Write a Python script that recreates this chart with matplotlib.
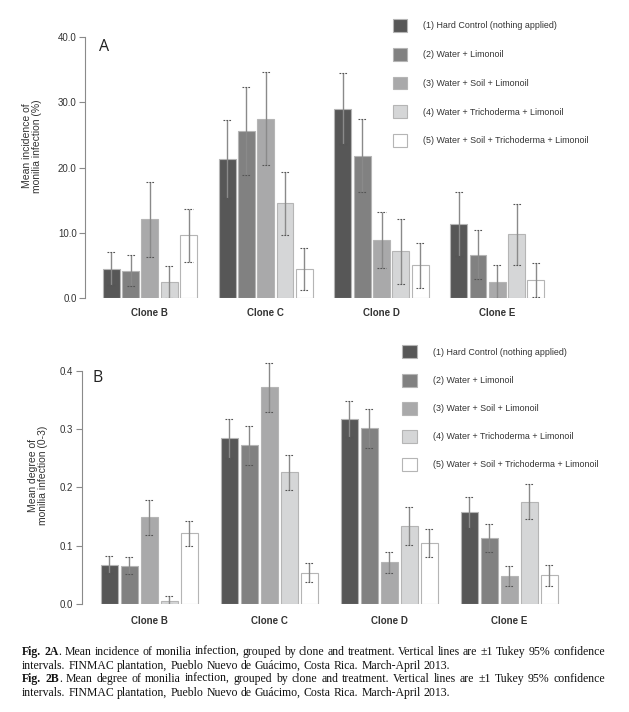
import matplotlib
matplotlib.use("Agg")
import matplotlib.pyplot as plt
from matplotlib.patches import Patch
import numpy as np

# ---------------- data ----------------
clones = ["Clone B", "Clone C", "Clone D", "Clone E"]
treatments = ["(1) Hard Control (nothing applied)",
              "(2) Water + Limonoil",
              "(3) Water + Soil + Limonoil",
              "(4) Water + Trichoderma + Limonoil",
              "(5) Water + Soil + Trichoderma + Limonoil"]

# Panel A: mean incidence (%) per clone, treatments 1..5
inc_B = [4.5, 4.2, 12.05, 2.45, 9.6]
inc_C = [21.3, 25.6, 27.5, 14.5, 4.5]
inc_D = [29.0, 21.8, 8.9, 7.15, 5.0]
inc_E = [11.35, 6.65, 2.5, 9.75, 2.7]
inc_err_B = [2.5, 2.4, 5.8, 2.5, 4.1]
inc_err_C = [6.0, 6.7, 7.1, 4.8, 3.2]
inc_err_D = [5.45, 5.6, 4.3, 4.95, 3.45]
inc_err_E = [4.85, 3.75, 2.5, 4.7, 2.6]

# Panel B: mean degree (0-3)
deg_B = [0.067, 0.066, 0.149, 0.006, 0.121]
deg_C = [0.284, 0.272, 0.372, 0.226, 0.054]
deg_D = [0.317, 0.301, 0.072, 0.134, 0.104]
deg_E = [0.157, 0.113, 0.048, 0.175, 0.049]
deg_err_B = [0.0145, 0.015, 0.030, 0.007, 0.022]
deg_err_C = [0.034, 0.034, 0.042, 0.030, 0.017]
deg_err_D = [0.031, 0.033, 0.018, 0.032, 0.024]
deg_err_E = [0.026, 0.024, 0.017, 0.030, 0.018]

yticks_A = [0, 10, 20, 30, 40]
yticks_B = [0.0, 0.1, 0.2, 0.3, 0.4]

# ---------------- style ----------------
colors = ["#575757", "#818181", "#a9a9aa", "#d5d6d7", "#ffffff"]
edge = "#b5b5b5"
txt = "#333333"
sans = ["Liberation Sans", "DejaVu Sans"]
plt.rcParams["font.family"] = sans

W, H = 629, 712
fig = plt.figure(figsize=(W / 100, H / 100), dpi=100)


def frac(l, t, r, b):
    return [l / W, 1 - b / H, (r - l) / W, (b - t) / H]


def panel(rect, xlim, ylim, means, errs, bw, yticks, fmt, spine_top, capw, xpad):
    ax = fig.add_axes(rect)
    ax.set_xlim(*xlim)
    ax.set_ylim(*ylim)
    for g, (m, e) in enumerate(zip(means, errs)):
        xs = np.arange(5) + 1 + 6 * g
        m = np.array(m)
        e = np.array(e)
        ax.bar(xs, m, width=bw, color=colors, edgecolor=edge, linewidth=0.8, zorder=2)
        lo = np.clip(m - e, 0, None)
        hi = m + e
        ax.vlines(xs, lo, hi, color="#8a8a8a", linewidth=1.0, zorder=3)
        ax.hlines(hi, xs - capw / 2, xs + capw / 2, color="#555555", linewidth=0.8,
                  linestyles=(0, (1.6, 1.0)), zorder=4)
        ax.hlines(lo, xs - capw / 2, xs + capw / 2, color="#555555", linewidth=0.8,
                  linestyles=(0, (1.6, 1.0)), zorder=4)
    for s in ["top", "right", "bottom"]:
        ax.spines[s].set_visible(False)
    ax.spines["left"].set_bounds(0, spine_top)
    ax.spines["left"].set_color("#8a8a8a")
    ax.spines["left"].set_linewidth(0.8)
    ax.set_yticks(yticks)
    ax.set_yticklabels([fmt.format(v) for v in yticks])
    ax.tick_params(axis="y", length=4, width=0.8, color="#8a8a8a", labelsize=7,
                   labelcolor=txt, pad=2)
    ax.set_xticks([3 + 6 * g for g in range(len(clones))])
    ax.set_xticklabels(clones, fontweight="bold", fontsize=7, color=txt)
    ax.tick_params(axis="x", length=0, pad=xpad)
    ax.patch.set_alpha(0)
    return ax


# Panel A
axA = panel(frac(85, 37, 560, 298), (-0.363, -0.363 + 475 / 19.3), (0, 40),
            [inc_B, inc_C, inc_D, inc_E],
            [inc_err_B, inc_err_C, inc_err_D, inc_err_E],
            0.88, yticks_A, "{:.1f}", 40, 0.42, 7.3)
# Panel B
axB = panel(frac(81.7, 604 - 0.43 * 583.3, 570, 604), (-0.375, -0.375 + (570 - 81.7) / 20), (0, 0.43),
            [deg_B, deg_C, deg_D, deg_E],
            [deg_err_B, deg_err_C, deg_err_D, deg_err_E],
            0.85, yticks_B, "{:.1f}", 0.4, 0.42, 8.5)

fig.text(104 / W, 1 - 46.7 / H, "A", fontsize=11.5, color="#222222", ha="center", va="center",
         family=["Open Sans", "DejaVu Sans"])
fig.text(98 / W, 1 - 378.3 / H, "B", fontsize=11.5, color="#222222", ha="center", va="center",
         family=["Open Sans", "DejaVu Sans"])

fig.text(32 / W, 1 - 146 / H, "Mean incidence of\nmonilia infection (%)", rotation=90,
         fontsize=7.5, color=txt, ha="center", va="center", linespacing=1.1)
fig.text(38 / W, 1 - 475 / H, "Mean degree of\nmonilia infection (0-3)", rotation=90,
         fontsize=7.5, color=txt, ha="center", va="center", linespacing=1.1)

handles = [Patch(facecolor=c, edgecolor=edge, linewidth=0.8) for c in colors]
for (lx, ly, lsp) in [(392.7, 19.0, 1.79), (402.3, 345.5, 1.72)]:
    fig.legend(handles, treatments, loc="upper left", bbox_to_anchor=(lx / W, 1 - ly / H),
               frameon=False, fontsize=6.4, handlelength=1.6, handleheight=1.85,
               handletextpad=1.8, labelspacing=lsp, borderpad=0, borderaxespad=0,
               labelcolor=txt)

# ---------------- caption (justified) ----------------
serif = ["Liberation Serif", "DejaVu Serif"]
cap_fs = 8.45
renderer = fig.canvas.get_renderer()
left_px, right_px = 22, 605

cap_lines = [
    ([[("Fig.", "bold")], [("2A", "bold"), (".", "normal")], "Mean", "incidence", "of", "monilia",
      "infection,", "grouped", "by", "clone", "and", "treatment.", "Vertical", "lines", "are",
      "\u00b11", "Tukey", "95%", "confidence"], True, 655),
    (["intervals.", "FINMAC", "plantation,", "Pueblo", "Nuevo", "de", "Gu\u00e1cimo,", "Costa",
      "Rica.", "March-April", "2013."], False, 669),
    ([[("Fig.", "bold")], [("2B", "bold"), (".", "normal")], "Mean", "degree", "of", "monilia",
      "infection,", "grouped", "by", "clone", "and", "treatment.", "Vertical", "lines", "are",
      "\u00b11", "Tukey", "95%", "confidence"], True, 682),
    (["intervals.", "FINMAC", "plantation,", "Pueblo", "Nuevo", "de", "Gu\u00e1cimo,", "Costa",
      "Rica.", "March-April", "2013."], False, 696),
]

for words, justify, ypx in cap_lines:
    items = []
    for w in words:
        segs = [(w, "normal")] if isinstance(w, str) else w
        tobjs = []
        for s, wt in segs:
            t = fig.text(0, 1 - ypx / H, s, fontsize=cap_fs, family=serif, fontweight=wt,
                         color="#111111", ha="left", va="baseline")
            tobjs.append(t)
        items.append(tobjs)
    widths = []
    for tobjs in items:
        widths.append([t.get_window_extent(renderer).width for t in tobjs])
    total = sum(sum(w) for w in widths)
    space = fig.text(0, 0, "a a", fontsize=cap_fs, family=serif)
    sw = space.get_window_extent(renderer).width
    space.set_text("aa")
    sw -= space.get_window_extent(renderer).width
    space.remove()
    gap = (right_px - left_px - total) / (len(items) - 1) if justify else sw
    x = left_px
    for tobjs, ws in zip(items, widths):
        for t, w in zip(tobjs, ws):
            t.set_x(x / W)
            x += w
        x += gap

fig.savefig("out.png", dpi=100, facecolor="white")
